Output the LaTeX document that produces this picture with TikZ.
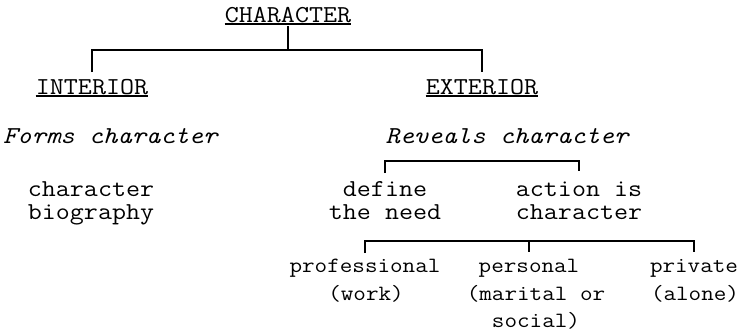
\documentclass[tikz,border=0pt]{standalone}
\usepackage{fontspec}
\setmonofont{Latin Modern Mono}[FakeStretch=1.12]
\begin{document}
\begin{tikzpicture}[x=1pt,y=-1pt,
  txt/.style={inner sep=0pt,anchor=base,font=\ttfamily\fontsize{24.3}{23}\selectfont},
  small/.style={inner sep=0pt,anchor=base,font=\ttfamily\fontsize{21.8}{27}\selectfont},
  ln/.style={line width=1.2pt},
  ul/.style={line width=1.1pt}]
\useasboundingbox (0,0) rectangle (743,335);
% level 0
\node[txt] (char) at (288,22) {CHARACTER};
% level 1
\node[txt] (interior) at (92,94) {INTERIOR};
\node[txt] (exterior) at (482,94) {EXTERIOR};
\node[txt,anchor=base west,font=\ttfamily\fontsize{24.3}{23}\selectfont\itshape] (forms) at (3,143) {Forms character};
\node[txt,font=\ttfamily\fontsize{24.3}{23}\selectfont\itshape] (reveals) at (507,143) {Reveals character};
\node[txt,align=center] (bio) at (91,219) {character\\biography};
\node[txt,align=center] (define) at (385,219) {define\\the need};
\node[txt,align=center] (action) at (579,219) {action is\\character};
% level 3
\node[small] (prof) at (365,272) {professional};
\node[small] (pers) at (529,272) {personal};
\node[small] (priv) at (694,272) {private};
\node[small] (work) at (366,300) {(work)};
\node[small,align=center] (marital) at (536,327) {(marital or\\social)};
\node[small] (alone) at (695,300) {(alone)};
% underlines
\foreach \n in {char,interior,exterior}
  \draw[ul] ([yshift=-2pt]\n.base west) -- ([yshift=-2pt]\n.base east);
% tree
\draw[ln] (char.base |- 0,26) -- (char.base |- 0,50);
\draw[ln] (interior.base |- 0,72) -- (interior.base |- 0,50) -- (exterior.base |- 0,50) -- (exterior.base |- 0,72);
% bracket 1
\draw[ln] (define.base |- 0,173) -- (define.base |- 0,161) -- (action.base |- 0,161) -- (action.base |- 0,171);
% bracket 2
\draw[ln] (prof.base |- 0,253) -- (prof.base |- 0,241) -- (priv.base |- 0,241) -- (priv.base |- 0,252);
\draw[ln] (pers.base |- 0,241) -- (pers.base |- 0,252);
\end{tikzpicture}
\end{document}
